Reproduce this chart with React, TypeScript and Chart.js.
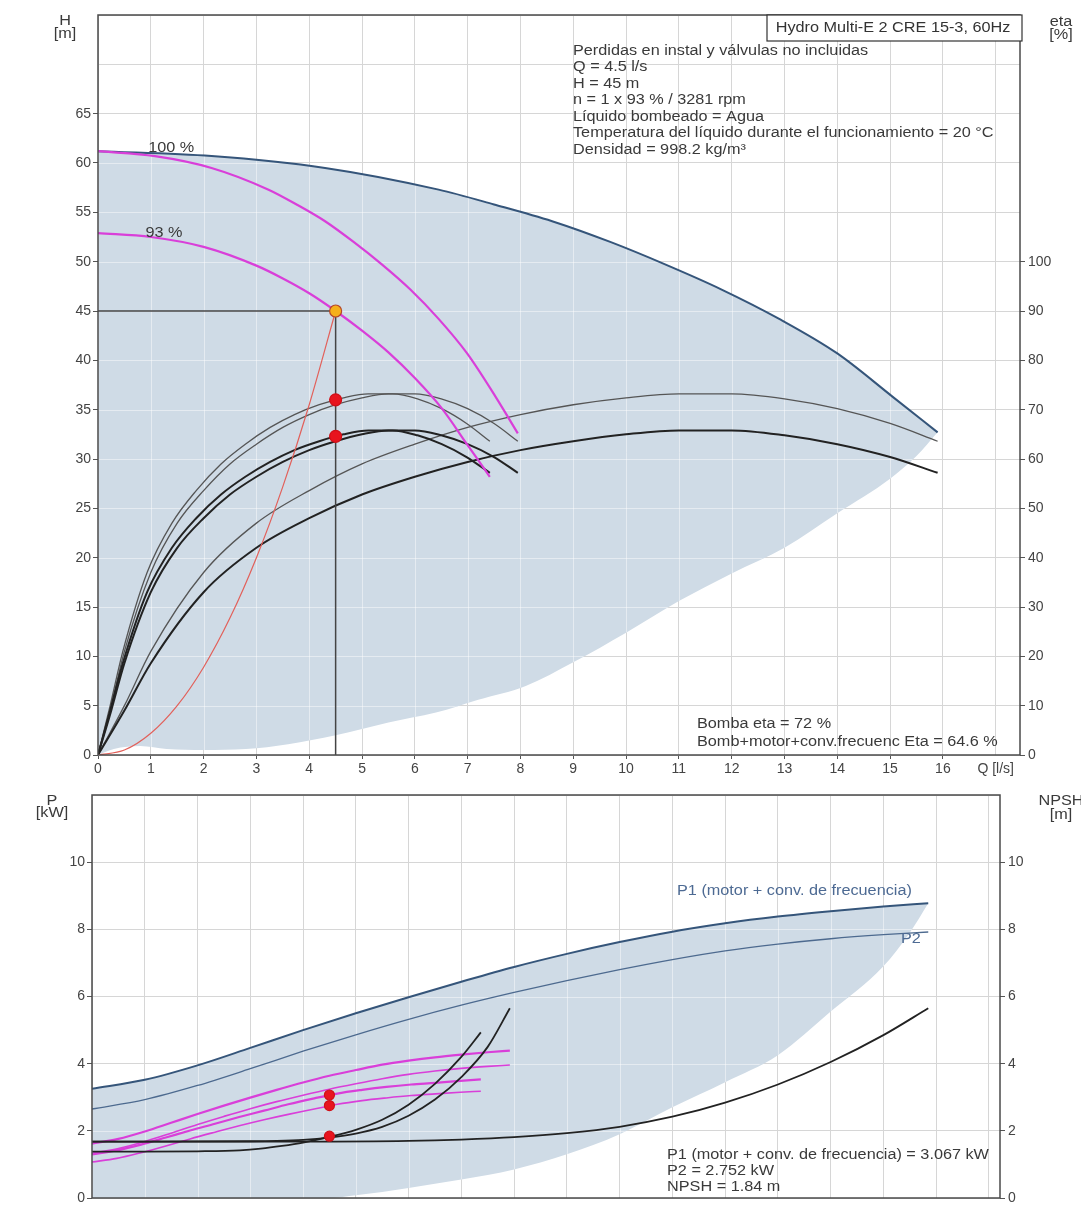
import React, { useEffect, useRef } from 'react';
import { Chart, registerables } from 'chart.js';

Chart.register(...registerables);
Chart.defaults.font.family = '"Liberation Sans", Arial, sans-serif';

type Pt = [number, number];

// ================= TOP CHART: Q [l/s] vs H [m] / eta [%] =================
const qMaxTop = 17.46;
const hMaxAxis = 75;
const etaMaxAxis = 150;

const hMaxCurve: Pt[] = [[0, 61.2], [2.15, 60.7], [4.3, 59.5], [6.45, 57.3], [7.5, 55.8], [8.6, 54.1], [9.7, 52.0], [10.75, 49.7], [11.8, 47.2], [12.9, 44.2], [14, 40.7], [15.05, 36.3], [15.9, 32.7]];
const hAreaLower: Pt[] = [[0, 0], [0.3, 0.6], [0.8, 0.9], [1.3, 0.6], [2, 0.5], [2.8, 0.6], [3.6, 1.1], [4.5, 2.0], [5.5, 3.3], [6.4, 4.3], [7.2, 5.6], [8.1, 7.0], [9, 9.4], [10, 12.4], [11, 15.6], [12, 18.4], [13, 21.0], [14, 24.5], [15, 28.0], [15.5, 30.3], [15.9, 32.7]];
const h100: Pt[] = [[0, 61.2], [1.08, 60.7], [2.15, 59.5], [3.23, 57.3], [3.76, 55.8], [4.3, 54.1], [4.84, 52.0], [5.38, 49.7], [5.91, 47.2], [6.45, 44.2], [6.99, 40.7], [7.53, 36.3], [7.95, 32.6]];
const h93: Pt[] = [[0, 52.9], [1, 52.5], [2, 51.5], [3, 49.6], [3.5, 48.3], [4, 46.8], [4.5, 45.0], [5, 43.0], [5.5, 40.8], [6, 38.2], [6.5, 35.2], [7, 31.4], [7.42, 28.2]];
const etaPump100: Pt[] = [[0, 0], [0.25, 10], [0.5, 21], [1, 37], [1.5, 47], [2, 53.6], [2.5, 59], [3, 63], [3.5, 66.4], [4, 69], [4.5, 71], [5, 72.4], [5.5, 73.2], [6, 73.2], [6.5, 72.2], [7, 70.2], [7.5, 67.2], [7.95, 63.6]];
const etaPump93: Pt[] = [[0, 0], [0.23, 10], [0.47, 21], [0.93, 37], [1.4, 47], [1.86, 53.6], [2.33, 59], [2.79, 63], [3.26, 66.4], [3.72, 69], [4.19, 71], [4.65, 72.4], [5.12, 73.2], [5.58, 73.2], [6.05, 72.2], [6.51, 70.2], [6.98, 67.2], [7.42, 63.6]];
const etaTotal100: Pt[] = [[0, 0], [0.25, 9], [0.5, 18.6], [1, 33], [1.5, 42], [2, 48], [2.5, 52.8], [3, 56.4], [3.5, 59.4], [4, 61.8], [4.5, 63.6], [5, 65], [5.5, 65.8], [6, 65.8], [6.5, 64.8], [7, 63], [7.5, 60.4], [7.95, 57.2]];
const etaTotal93: Pt[] = [[0, 0], [0.23, 9], [0.47, 18.6], [0.93, 33], [1.4, 42], [1.86, 48], [2.33, 52.8], [2.79, 56.4], [3.26, 59.4], [3.72, 61.8], [4.19, 63.6], [4.65, 65], [5.12, 65.8], [5.58, 65.8], [6.05, 64.8], [6.51, 63], [6.98, 60.4], [7.42, 57.2]];
const etaPumpTwin: Pt[] = [[0, 0], [0.5, 10], [1, 21], [2, 37], [3, 47], [4, 53.6], [5, 59], [6, 63], [7, 66.4], [8, 69], [9, 71], [10, 72.4], [11, 73.2], [12, 73.2], [13, 72.2], [14, 70.2], [15, 67.2], [15.9, 63.6]];
const etaTotalTwin: Pt[] = [[0, 0], [0.5, 9], [1, 18.6], [2, 33], [3, 42], [4, 48], [5, 52.8], [6, 56.4], [7, 59.4], [8, 61.8], [9, 63.6], [10, 65], [11, 65.8], [12, 65.8], [13, 64.8], [14, 63], [15, 60.4], [15.9, 57.2]];
const systemCurve: Pt[] = [[0, 0], [0.5, 0.5], [1, 2.2], [1.5, 5], [2, 8.9], [2.5, 13.9], [3, 20], [3.5, 27.2], [4, 35.5], [4.5, 45]];
const dutyHLine: Pt[] = [[0, 45], [4.5, 45]];
const dutyQLine: Pt[] = [[4.5, 45], [4.5, 0]];
const dutyPoint: Pt[] = [[4.5, 45]];
const dutyEta: Pt[] = [[4.5, 72], [4.5, 64.6]];

const topTitle = 'Hydro Multi-E 2 CRE 15-3, 60Hz';
const infoLines = [
  'Perdidas en instal y válvulas no incluidas',
  'Q = 4.5 l/s',
  'H = 45 m',
  'n = 1 x 93 % / 3281 rpm',
  'Líquido bombeado = Agua',
  'Temperatura del líquido durante el funcionamiento = 20 °C',
  'Densidad = 998.2 kg/m³',
];
const etaLines = ['Bomba eta = 72 %', 'Bomb+motor+conv.frecuenc Eta = 64.6 %'];

// ================= BOTTOM CHART: P [kW] / NPSH [m] =================
const qMaxBot = 17.21;
const pMaxAxis = 12;

const p1Twin: Pt[] = [[0, 3.25], [1, 3.52], [2, 3.95], [3, 4.47], [4, 5.0], [5, 5.5], [6, 5.98], [7, 6.44], [8, 6.88], [9, 7.27], [10, 7.62], [11, 7.93], [12, 8.18], [13, 8.38], [14, 8.54], [15, 8.68], [15.85, 8.78]];
const p2Twin: Pt[] = [[0, 2.65], [1, 2.93], [2, 3.35], [3, 3.85], [4, 4.37], [5, 4.86], [6, 5.32], [7, 5.74], [8, 6.12], [9, 6.47], [10, 6.8], [11, 7.1], [12, 7.36], [13, 7.56], [14, 7.72], [15, 7.84], [15.85, 7.92]];
const pAreaLower: Pt[] = [[0, 0], [4.5, 0], [5, 0.08], [6, 0.3], [7, 0.55], [8, 0.85], [9, 1.3], [10, 1.9], [11, 2.7], [12, 3.45], [13, 4.25], [14, 5.55], [15, 6.9], [15.5, 7.9], [15.85, 8.78]];
const p1Single100: Pt[] = [[0, 1.62], [0.5, 1.76], [1, 1.98], [1.5, 2.24], [2, 2.5], [2.5, 2.75], [3, 2.99], [3.5, 3.22], [4, 3.44], [4.5, 3.64], [5, 3.81], [5.5, 3.97], [6, 4.09], [6.5, 4.19], [7, 4.27], [7.5, 4.34], [7.92, 4.39]];
const p2Single100: Pt[] = [[0, 1.33], [0.5, 1.47], [1, 1.68], [1.5, 1.93], [2, 2.19], [2.5, 2.43], [3, 2.66], [3.5, 2.87], [4, 3.06], [4.5, 3.24], [5, 3.4], [5.5, 3.55], [6, 3.68], [6.5, 3.78], [7, 3.86], [7.5, 3.92], [7.92, 3.96]];
const p1Single93: Pt[] = [[0, 1.3], [0.47, 1.42], [0.93, 1.59], [1.4, 1.8], [1.86, 2.01], [2.33, 2.21], [2.79, 2.41], [3.26, 2.6], [3.72, 2.79], [4.19, 2.96], [4.65, 3.11], [5.12, 3.22], [5.58, 3.31], [6.05, 3.38], [6.51, 3.43], [6.98, 3.49], [7.37, 3.53]];
const p2Single93: Pt[] = [[0, 1.07], [0.47, 1.18], [0.93, 1.35], [1.4, 1.55], [1.86, 1.76], [2.33, 1.96], [2.79, 2.15], [3.26, 2.33], [3.72, 2.49], [4.19, 2.64], [4.65, 2.79], [5.12, 2.9], [5.58, 2.98], [6.05, 3.05], [6.51, 3.1], [6.98, 3.15], [7.37, 3.18]];
const npshTwin: Pt[] = [[0, 1.68], [4, 1.68], [6, 1.7], [7, 1.74], [8, 1.81], [9, 1.93], [10, 2.12], [11, 2.42], [12, 2.84], [13, 3.38], [14, 4.05], [15, 4.85], [15.85, 5.65]];
const npsh100: Pt[] = [[0, 1.68], [3, 1.69], [3.5, 1.7], [4, 1.73], [4.5, 1.8], [5, 1.92], [5.5, 2.12], [6, 2.45], [6.5, 2.93], [7, 3.6], [7.5, 4.5], [7.92, 5.65]];
const npsh93: Pt[] = [[0, 1.38], [1, 1.38], [2, 1.39], [2.8, 1.42], [3.2, 1.47], [3.6, 1.55], [4, 1.65], [4.5, 1.82], [5, 2.03], [5.5, 2.33], [6, 2.78], [6.5, 3.4], [7, 4.2], [7.37, 4.93]];
const dutyPower: Pt[] = [[4.5, 3.067], [4.5, 2.752]];
const dutyNpsh: Pt[] = [[4.5, 1.84]];
const resultLines = ['P1 (motor + conv. de frecuencia) = 3.067 kW', 'P2 = 2.752 kW', 'NPSH = 1.84 m'];

// ================= helpers =================
const FONT = '"Liberation Sans", Arial, sans-serif';
const STRETCH = 1.16;
const xy = (pts: Pt[]) => pts.map(([x, y]) => ({ x, y }));
const curve = (pts: Pt[], color: string, width: number, axis = 'y', extra: any = {}) => ({
  data: xy(pts), borderColor: color, borderWidth: width, pointRadius: 0, fill: false,
  cubicInterpolationMode: 'monotone', yAxisID: axis, ...extra,
});
const straight = (pts: Pt[], color: string, width: number, axis = 'y') => ({
  data: xy(pts), borderColor: color, borderWidth: width, pointRadius: 0, fill: false, tension: 0, yAxisID: axis,
});
const dots = (pts: Pt[], fillC: string, strokeC: string, r: number, axis = 'y') => ({
  data: xy(pts), showLine: false, pointRadius: r, pointBackgroundColor: fillC, pointBorderColor: strokeC,
  pointBorderWidth: 1.2, yAxisID: axis,
});

type TextItem = { t: string; x: number; y: number; color?: string; align?: CanvasTextAlign; size?: number; data?: boolean };
const textPlugin = (items: TextItem[], box?: { x1: number; y1: number; x2: number; y2: number }) => ({
  id: 'texts',
  afterDraw(chart: any) {
    const ctx = chart.ctx;
    ctx.save();
    if (box) {
      ctx.fillStyle = '#fff';
      ctx.fillRect(box.x1, box.y1, box.x2 - box.x1, box.y2 - box.y1);
      ctx.strokeStyle = '#333';
      ctx.lineWidth = 1.2;
      ctx.strokeRect(box.x1, box.y1, box.x2 - box.x1, box.y2 - box.y1);
    }
    for (const it of items) {
      let px = it.x, py = it.y;
      if (it.data) { px = chart.scales.x.getPixelForValue(it.x); py = chart.scales.y.getPixelForValue(it.y); }
      ctx.font = `${it.size || 14}px ${FONT}`;
      ctx.fillStyle = it.color || '#3a3a3a';
      ctx.textAlign = it.align || 'left';
      ctx.textBaseline = 'middle';
      ctx.save();
      ctx.translate(px, py);
      ctx.scale(STRETCH, 1);
      ctx.fillText(it.t, 0, 0);
      ctx.restore();
    }
    ctx.restore();
  },
});

const framePlugin = {
  id: 'frame',
  afterDatasetsDraw(chart: any) {
    const { ctx, chartArea: a } = chart;
    ctx.save();
    ctx.strokeStyle = '#4a4a4a';
    ctx.lineWidth = 1.5;
    ctx.strokeRect(a.left, a.top, a.right - a.left, a.bottom - a.top);
    ctx.restore();
  },
};

const gridOverlay = (upperIdx: number, lowerIdx: number) => ({
  id: 'gridOverlay',
  beforeDatasetsDraw(chart: any) {
    const { ctx, chartArea: a, scales } = chart;
    const up = chart.getDatasetMeta(upperIdx).data;
    const lo = chart.getDatasetMeta(lowerIdx).data;
    ctx.save();
    ctx.beginPath();
    up.forEach((p: any, i: number) => (i ? ctx.lineTo(p.x, p.y) : ctx.moveTo(p.x, p.y)));
    for (let i = lo.length - 1; i >= 0; i--) ctx.lineTo(lo[i].x, lo[i].y);
    ctx.closePath();
    ctx.clip();
    ctx.strokeStyle = 'rgba(255,255,255,0.45)';
    ctx.lineWidth = 1;
    ctx.beginPath();
    scales.x.ticks.forEach((t: any) => {
      const x = Math.round(scales.x.getPixelForValue(t.value)) + 0.5;
      ctx.moveTo(x, a.top); ctx.lineTo(x, a.bottom);
    });
    scales.y.ticks.forEach((t: any) => {
      const y = Math.round(scales.y.getPixelForValue(t.value)) + 0.5;
      ctx.moveTo(a.left, y); ctx.lineTo(a.right, y);
    });
    ctx.stroke();
    ctx.restore();
  },
});

const AREA = '#cfdbe6';
const BLUE = '#35557a';
const MAGENTA = '#d93fd9';
const GRID = '#d6d6d6';
const TICKC = '#555';
const tickFont = { size: 14, family: FONT };

function topConfig(): any {
  const datasets = [
    dots(dutyPoint, '#f5b01a', '#b5472a', 6),
    dots(dutyEta, '#e8141e', '#d01018', 6, 'y2'),
    straight(dutyHLine, '#444', 1.5),
    straight(dutyQLine, '#444', 1.5),
    curve(h100, MAGENTA, 2.2),
    curve(h93, MAGENTA, 2.2),
    curve(systemCurve, '#e2605a', 1.2),
    curve(etaTotal100, '#222', 2, 'y2'),
    curve(etaTotal93, '#222', 2, 'y2'),
    curve(etaPump100, '#555', 1.3, 'y2'),
    curve(etaPump93, '#555', 1.3, 'y2'),
    curve(etaTotalTwin, '#222', 2, 'y2'),
    curve(etaPumpTwin, '#555', 1.3, 'y2'),
    curve(hMaxCurve, BLUE, 2),
    curve(hAreaLower, 'rgba(0,0,0,0)', 0, 'y', { fill: 13, backgroundColor: AREA }),
  ];
  const texts: TextItem[] = [
    { t: 'H', x: 65, y: 21, align: 'center' },
    { t: '[m]', x: 65, y: 34, align: 'center' },
    { t: 'eta', x: 1061, y: 22, align: 'center' },
    { t: '[%]', x: 1061, y: 35, align: 'center' },
    { t: topTitle, x: 893, y: 28, align: 'center', color: '#333' },
    ...infoLines.map((t, i) => ({ t, x: 573, y: 51 + i * 16.5 })),
    { t: '100 %', x: 0.95, y: 61.5, data: true },
    { t: '93 %', x: 0.9, y: 52.9, data: true },
    ...etaLines.map((t, i) => ({ t, x: 697, y: 724 + i * 18 })),
  ];
  return {
    type: 'line',
    data: { datasets },
    options: {
      responsive: false, animation: false, devicePixelRatio: 1,
      layout: { padding: { top: 15, left: 0, right: 0, bottom: 0 } },
      plugins: { legend: { display: false }, tooltip: { enabled: false }, filler: { drawTime: 'beforeDatasetsDraw' } },
      scales: {
        x: {
          type: 'linear', min: 0, max: qMaxTop,
          afterFit: (s: any) => { s.height = 25; },
          ticks: { stepSize: 1, includeBounds: false, autoSkip: false, maxRotation: 0, color: '#444', font: tickFont, padding: 2,
            callback: (v: number) => (v === 17 ? 'Q [l/s]' : v <= 16 ? String(v) : '') },
          grid: { color: GRID, tickLength: 4, tickColor: (c: any) => (c.tick && c.tick.value <= 16 ? TICKC : 'rgba(0,0,0,0)') },
          border: { display: false },
        },
        y: {
          position: 'left', min: 0, max: hMaxAxis,
          afterFit: (s: any) => { s.width = 98; },
          ticks: { stepSize: 5, includeBounds: false, color: '#444', font: tickFont, padding: 2,
            callback: (v: number) => (v <= 65 ? String(v) : '') },
          grid: { color: GRID, tickLength: 5, tickColor: (c: any) => (c.tick && c.tick.value <= 65 ? TICKC : 'rgba(0,0,0,0)') },
          border: { display: false },
        },
        y2: {
          position: 'right', min: 0, max: etaMaxAxis,
          afterFit: (s: any) => { s.width = 61; },
          ticks: { stepSize: 10, includeBounds: false, color: '#444', font: tickFont, padding: 3,
            callback: (v: number) => (v <= 100 ? String(v) : '') },
          grid: { drawOnChartArea: false, tickLength: 5, tickColor: (c: any) => (c.tick && c.tick.value <= 100 ? TICKC : 'rgba(0,0,0,0)') },
          border: { display: false },
        },
      },
    },
    plugins: [gridOverlay(13, 14), framePlugin, textPlugin(texts, { x1: 767, y1: 15, x2: 1022, y2: 41 })],
  };
}

function bottomConfig(): any {
  const datasets = [
    dots(dutyPower, '#e8141e', '#d01018', 5),
    dots(dutyNpsh, '#e8141e', '#d01018', 5, 'y2'),
    curve(npsh100, '#222', 1.8, 'y2'),
    curve(npsh93, '#222', 1.8, 'y2'),
    curve(npshTwin, '#222', 1.8, 'y2'),
    curve(p1Single100, MAGENTA, 2.2),
    curve(p2Single100, MAGENTA, 1.6),
    curve(p1Single93, MAGENTA, 2.2),
    curve(p2Single93, MAGENTA, 1.6),
    curve(p2Twin, '#4d6a8f', 1.3),
    curve(p1Twin, BLUE, 2),
    curve(pAreaLower, 'rgba(0,0,0,0)', 0, 'y', { fill: 10, backgroundColor: AREA }),
  ];
  const texts: TextItem[] = [
    { t: 'P', x: 52, y: 21, align: 'center' },
    { t: '[kW]', x: 52, y: 33, align: 'center' },
    { t: 'NPSH', x: 1061, y: 21, align: 'center' },
    { t: '[m]', x: 1061, y: 35, align: 'center' },
    { t: 'P1 (motor + conv. de frecuencia)', x: 677, y: 111, color: '#4d6a93' },
    { t: 'P2', x: 901, y: 159, color: '#4d6a93' },
    ...resultLines.map((t, i) => ({ t, x: 667, y: 375 + i * 16 })),
  ];
  return {
    type: 'line',
    data: { datasets },
    options: {
      responsive: false, animation: false, devicePixelRatio: 1,
      layout: { padding: { top: 15, left: 0, right: 0, bottom: 0 } },
      plugins: { legend: { display: false }, tooltip: { enabled: false }, filler: { drawTime: 'beforeDatasetsDraw' } },
      scales: {
        x: {
          type: 'linear', min: 0, max: qMaxBot,
          afterFit: (s: any) => { s.height = 15; },
          ticks: { stepSize: 1, includeBounds: false, autoSkip: false, display: false },
          grid: { color: GRID, drawTicks: false },
          border: { display: false },
        },
        y: {
          position: 'left', min: 0, max: pMaxAxis,
          afterFit: (s: any) => { s.width = 92; },
          ticks: { stepSize: 2, includeBounds: false, color: '#444', font: tickFont, padding: 2,
            callback: (v: number) => (v <= 10 ? String(v) : '') },
          grid: { color: GRID, tickLength: 5, tickColor: (c: any) => (c.tick && c.tick.value <= 10 ? TICKC : 'rgba(0,0,0,0)') },
          border: { display: false },
        },
        y2: {
          position: 'right', min: 0, max: pMaxAxis,
          afterFit: (s: any) => { s.width = 81; },
          ticks: { stepSize: 2, includeBounds: false, color: '#444', font: tickFont, padding: 3,
            callback: (v: number) => (v <= 10 ? String(v) : '') },
          grid: { drawOnChartArea: false, tickLength: 5, tickColor: (c: any) => (c.tick && c.tick.value <= 10 ? TICKC : 'rgba(0,0,0,0)') },
          border: { display: false },
        },
      },
    },
    plugins: [gridOverlay(10, 11), framePlugin, textPlugin(texts)],
  };
}

export default function App() {
  const topRef = useRef<HTMLCanvasElement>(null);
  const botRef = useRef<HTMLCanvasElement>(null);
  useEffect(() => {
    const c1 = new Chart(topRef.current as HTMLCanvasElement, topConfig());
    const c2 = new Chart(botRef.current as HTMLCanvasElement, bottomConfig());
    return () => { c1.destroy(); c2.destroy(); };
  }, []);
  return (
    <div style={{ position: 'absolute', left: 0, top: 0, width: 1081, height: 1213, background: '#fff' }}>
      <canvas ref={topRef} width={1081} height={780} style={{ position: 'absolute', left: 0, top: 0 }} />
      <canvas ref={botRef} width={1081} height={433} style={{ position: 'absolute', left: 0, top: 780 }} />
    </div>
  );
}
